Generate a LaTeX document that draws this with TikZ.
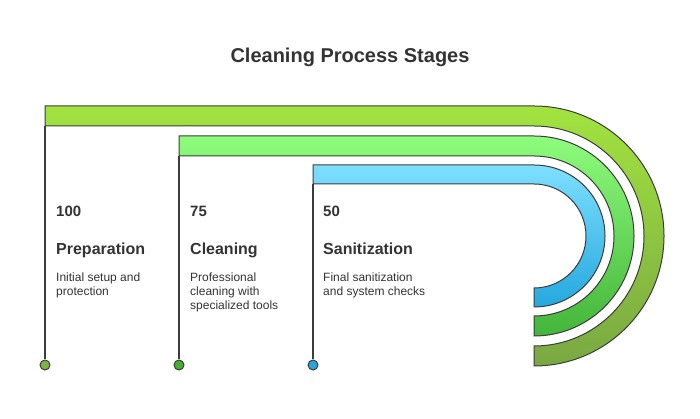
\documentclass[tikz,border=0pt]{standalone}
\usepackage{fontspec}
\setmainfont{Liberation Sans}
\definecolor{txt}{HTML}{333333}
\definecolor{edge}{HTML}{3C3C3C}
\definecolor{gAtop}{HTML}{A2E33F}
\definecolor{gAbot}{HTML}{79A842}
\definecolor{gBtop}{HTML}{8EFC7C}
\definecolor{gBbot}{HTML}{43B53A}
\definecolor{gCtop}{HTML}{7EDFFF}
\definecolor{gCbot}{HTML}{25A8DD}
\definecolor{dotA}{HTML}{7CB342}
\definecolor{dotB}{HTML}{43B02A}
\definecolor{dotC}{HTML}{2AA3DC}
\tikzset{
  band/.style={draw=edge, line width=1pt},
  stem/.style={draw=edge, line width=1.2pt},
  dotnode/.style={circle, draw=edge, line width=1pt, minimum size=10pt, inner sep=0pt},
  numtxt/.style={anchor=base west, inner sep=0pt, text=txt, font=\fontsize{15}{18}\selectfont\bfseries},
  headtxt/.style={anchor=base west, inner sep=0pt, text=txt, font=\fontsize{16}{19}\selectfont\bfseries},
  desctxt/.style={anchor=north west, inner sep=0pt, text=txt, align=left, font=\fontsize{12}{14}\selectfont},
  titletxt/.style={inner sep=0pt, text=txt, font=\fontsize{20}{24}\selectfont\bfseries}
}
\begin{document}
\begin{tikzpicture}[x=1pt,y=1pt]
\useasboundingbox (0,0) rectangle (700,419);
% bands
\path[band, top color=gAtop, bottom color=gAbot]
  (45,313) -- (534,313) arc[start angle=90, end angle=-90, radius=130]
  -- (534,73) arc[start angle=-90, end angle=90, radius=110] -- (45,293) -- cycle;
\path[band, top color=gBtop, bottom color=gBbot]
  (179,283) -- (534,283) arc[start angle=90, end angle=-90, radius=100]
  -- (534,103) arc[start angle=-90, end angle=90, radius=80] -- (179,263) -- cycle;
\path[band, top color=gCtop, bottom color=gCbot]
  (313,254) -- (534,254) arc[start angle=90, end angle=-90, radius=71]
  -- (534,131) arc[start angle=-90, end angle=90, radius=52] -- (313,235) -- cycle;
% anchors and dots
\coordinate (sA) at (45,293);
\coordinate (sB) at (179,263);
\coordinate (sC) at (313,235);
\node[dotnode, fill=dotA] (dA) at (45,54) {};
\node[dotnode, fill=dotB] (dB) at (179,54) {};
\node[dotnode, fill=dotC] (dC) at (313,54) {};
\draw[stem] (sA) -- (dA);
\draw[stem] (sB) -- (dB);
\draw[stem] (sC) -- (dC);
% title
\node[titletxt] (title) at (350,362) {Cleaning Process Stages};
% texts
\node[numtxt] (nA) at (56,202) {100};
\node[headtxt] (hA) at (56,164) {Preparation};
\node[desctxt] (tA) at (56,146) {Initial setup and\\protection};
\node[numtxt] (nB) at (190,202) {75};
\node[headtxt] (hB) at (190,164) {Cleaning};
\node[desctxt] (tB) at (190,146) {Professional\\cleaning with\\specialized tools};
\node[numtxt] (nC) at (323,202) {50};
\node[headtxt] (hC) at (323,164) {Sanitization};
\node[desctxt] (tC) at (323,146) {Final sanitization\\and system checks};
\end{tikzpicture}
\end{document}
